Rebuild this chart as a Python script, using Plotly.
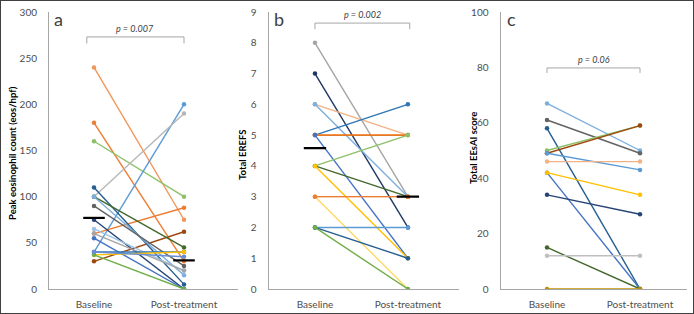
import plotly.graph_objects as go

# ---------------- data ----------------
categories = ["Baseline", "Post-treatment"]

# Panel a: peak eosinophil count (eos/hpf)
a_baseline = [240, 180, 160, 40, 100, 60, 30, 110, 100, 100, 90, 75, 65, 60, 55, 40, 37, 37, 40]
a_post     = [75, 30, 100, 200, 190, 88, 62, 5, 45, 15, 25, 0, 20, 20, 0, 40, 40, 0, 35]
a_colors = ["#F1975A", "#ED7D31", "#8CC168", "#5B9BD5", "#B7B7B7", "#ED7D31", "#9E480E",
            "#255E91", "#43682B", "#7CAFDD", "#636363", "#264478", "#9DC3E6", "#A5A5A5",
            "#4472C4", "#2E75B6", "#FFC000", "#70AD47", "#698ED0"]
a_mean = [77, 31]

# Panel b: total EREFS
b_baseline = [8, 7, 6, 6, 5, 5, 5, 5, 4, 4, 4, 3, 3, 3, 2, 2, 2]
b_post     = [3, 2, 5, 3, 6, 5, 5, 1, 5, 3, 1, 0, 3, 3, 2, 1, 0]
b_colors = ["#A5A5A5", "#203864", "#F4B183", "#7CAFDD", "#2E75B6", "#ED7D31", "#E46C0A",
            "#4472C4", "#8CC168", "#43682B", "#FFC000", "#FFD966", "#F4B183", "#ED7D31",
            "#5B9BD5", "#255E91", "#70AD47"]
b_mean = [4.58, 3.0]

# Panel c: total EEsAI score
c_baseline = [67, 61, 58, 50, 49, 49, 46, 42, 42, 34, 15, 12, 0]
c_post     = [50, 49, 0, 59, 59, 43, 46, 0, 34, 27, 0, 12, 0]
c_colors = ["#7CAFDD", "#636363", "#255E91", "#8CC168", "#9E480E", "#5B9BD5", "#F4B183",
            "#4472C4", "#FFC000", "#264478", "#43682B", "#BFBFBF", "#BF9000"]

y_titles = ["Peak eosinophil count (eos/hpf)", "Total EREFS", "Total EEsAI score"]
panel_labels = ["a", "b", "c"]
p_texts = ["p = 0.007", "p = 0.002", "p = 0.06"]

# ---------------- figure ----------------
W, H = 694, 314
fig = go.Figure()

panels = [
    dict(base=a_baseline, post=a_post, colors=a_colors, mean=a_mean,
         xa="x", ya="y", xdom=[49 / W, 238 / W], xr=[-0.5, 1.6], yr=[0, 300], dt=50,
         bracket=(-0.08, 1.0, 273, 266), ptext_y=282, title_x=12, title_yc=153, label_x=58),
    dict(base=b_baseline, post=b_post, colors=b_colors, mean=b_mean,
         xa="x2", ya="y2", xdom=[268.5 / W, 459 / W], xr=[-0.5, 1.55], yr=[0, 9], dt=1,
         bracket=(0.0, 1.02, 8.64, 8.44), ptext_y=8.92, title_x=242, title_yc=155, label_x=279),
    dict(base=c_baseline, post=c_post, colors=c_colors, mean=None,
         xa="x3", ya="y3", xdom=[500.5 / W, 686.5 / W], xr=[-0.5, 1.5], yr=[0, 100], dt=20,
         bracket=(0.0, 1.0, 79.8, 78.0), ptext_y=82.8, title_x=473, title_yc=148, label_x=511),
]

ydom = [25 / H, 302 / H]
tickfont = dict(family="Lato, Open Sans, sans-serif", size=10, color="#4D4D4D")
axis_color = "#A6A6A6"

for i, p in enumerate(panels):
    for b, q, col in zip(p["base"], p["post"], p["colors"]):
        fig.add_trace(go.Scatter(
            x=[0, 1], y=[b, q], mode="lines+markers",
            line=dict(color=col, width=1.4), marker=dict(color=col, size=4.5),
            xaxis=p["xa"], yaxis=p["ya"], showlegend=False, hoverinfo="skip"))
    if p["mean"] is not None:
        for xi, m in enumerate(p["mean"]):
            fig.add_trace(go.Scatter(
                x=[xi - 0.12, xi + 0.12], y=[m, m], mode="lines",
                line=dict(color="black", width=2.2),
                xaxis=p["xa"], yaxis=p["ya"], showlegend=False, hoverinfo="skip"))
    # significance bracket
    x0, x1, ytop, ybot = p["bracket"]
    fig.add_trace(go.Scatter(
        x=[x0, x0, x1, x1], y=[ybot, ytop, ytop, ybot], mode="lines",
        line=dict(color="#A6A6A6", width=1),
        xaxis=p["xa"], yaxis=p["ya"], showlegend=False, hoverinfo="skip"))
    fig.add_annotation(x=(x0 + x1) / 2, y=p["ptext_y"], xref=p["xa"], yref=p["ya"],
                       text="<i>" + p_texts[i] + "</i>", showarrow=False,
                       font=dict(family="Lato, Open Sans, sans-serif", size=9, color="#404040"))
    # panel letter
    fig.add_annotation(x=p["label_x"] / W, y=1 - 19 / H, xref="paper", yref="paper",
                       text=panel_labels[i], showarrow=False, xanchor="center", yanchor="middle",
                       font=dict(family="Lato, Open Sans, sans-serif", size=18, color="#404040"))
    # y-title
    fig.add_annotation(x=p["title_x"] / W, y=1 - p["title_yc"] / H, xref="paper", yref="paper",
                       text="<b>" + y_titles[i] + "</b>", showarrow=False, textangle=-90,
                       xanchor="center", yanchor="middle",
                       font=dict(family="Lato, Open Sans, sans-serif", size=9.5, color="#000000"))

    sfx = "" if i == 0 else str(i + 1)
    fig.update_layout(**{
        "xaxis" + sfx: dict(domain=p["xdom"], range=p["xr"], tickvals=[0, 1], ticktext=categories,
                            showgrid=False, zeroline=False, showline=True, linecolor=axis_color,
                            linewidth=1, ticks="", tickfont=tickfont, anchor="y" + sfx,
                            ticklabelstandoff=6, fixedrange=True, automargin=False),
        "yaxis" + sfx: dict(domain=ydom, range=p["yr"], dtick=p["dt"], showgrid=False,
                            zeroline=False, showline=True, linecolor=axis_color, linewidth=1,
                            ticks="", tickfont=tickfont, anchor="x" + sfx,
                            ticklabelstandoff=9, fixedrange=True, automargin=False),
    })

fig.add_shape(type="rect", xref="paper", yref="paper", x0=0, y0=0, x1=1, y1=1,
              line=dict(color="#404040", width=2), fillcolor="rgba(0,0,0,0)")

fig.update_layout(width=W, height=H, margin=dict(l=0, r=0, t=0, b=0, autoexpand=False),
                  paper_bgcolor="white", plot_bgcolor="white")

fig.write_html(
    "out.html",
    config={"displayModeBar": False, "responsive": False},
    post_script=("document.body.style.margin='0';"
                 "document.body.style.overflow='hidden';"
                 "document.documentElement.style.overflow='hidden';"),
)
